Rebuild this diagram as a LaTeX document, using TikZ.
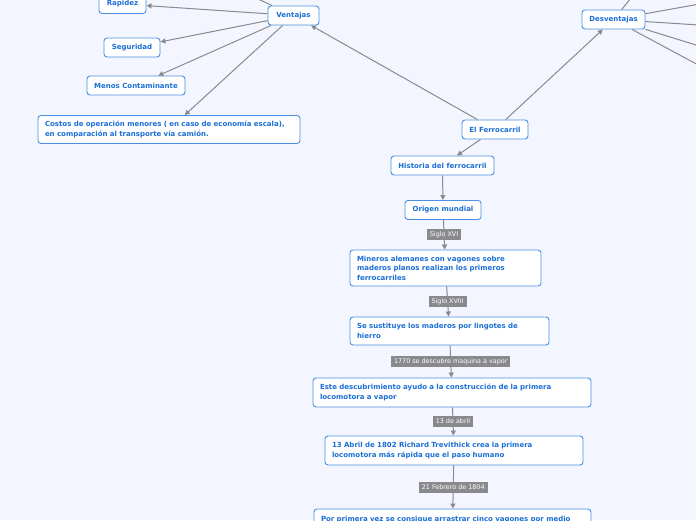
\documentclass[tikz,border=0pt]{standalone}
\usepackage{fontspec}
\newfontfamily\mapfont{DejaVu Sans}
\usetikzlibrary{arrows.meta}
\definecolor{mapbg}{HTML}{F3F6FE}
\definecolor{mapblue}{HTML}{4A90E2}
\definecolor{maptext}{HTML}{1A6FD6}
\definecolor{mapgray}{HTML}{8A8A8E}

\begin{document}
\begin{tikzpicture}[x=1pt,y=-1pt,>={Triangle[length=5pt,width=5pt]},
  every text node part/.style={align=left},
  topic/.style={draw=mapblue,line width=0.9pt,fill=white,rounded corners=3pt,text=maptext,
    font=\mapfont\bfseries\fontsize{7}{9.5}\selectfont,minimum height=19pt,inner xsep=7pt,inner ysep=3pt},
  tag/.style={fill=mapgray,text=white,font=\mapfont\fontsize{6.4}{7}\selectfont,inner xsep=3pt,inner ysep=1.5pt,minimum height=11pt},
  link/.style={draw=mapgray,line width=1pt}]

\useasboundingbox (0,0) rectangle (696,520);
\fill [mapbg] (0,0) rectangle (696,520);
\clip (0,0) rectangle (696,520);

%%%%%%%%%%%%%%%%%%%%%%%%%%%%%%%%%%%%%%

\node[topic,minimum width=66pt] (ferro) at (495,129.5) {El Ferrocarril};
\node[topic,minimum width=51pt] (vent) at (293.5,15.5) {Ventajas};
\node[topic,minimum width=63pt] (desv) at (613.5,19.5) {Desventajas};

%%%%%%%%%%%%%%%%%%%%%%%%%%%%%%%%%%%%%%

\node[topic,minimum width=47pt] (rapidez) at (122.5,4) {Rapidez};
\node[topic,minimum width=56pt] (seguridad) at (132,47.5) {Seguridad};
\node[topic,minimum width=98pt] (menos) at (136,85.5) {Menos Contaminante};
\node[topic,text width=248pt,minimum height=28pt] (costos) at (169,129.5)
  {Costos de operación menores ( en caso de economía escala),\\en comparación al transporte vía camión.};

\coordinate (v0) at (230,-14);
\coordinate (d0) at (640,-13);
\coordinate (d1) at (730,-1.5);
\coordinate (d2) at (730,27);
\coordinate (d3) at (730,55.5);
\coordinate (d4) at (730,82);

%%%%%%%%%%%%%%%%%%%%%%%%%%%%%%%%%%%%%%

\node[topic,minimum width=103pt] (historia) at (442.5,165.5) {Historia del ferrocarril};
\node[topic,minimum width=76pt] (origen) at (443,210) {Origen mundial};
\node[topic,text width=177pt,minimum height=36pt] (mineros) at (445.5,268)
  {Mineros alemanes con vagones sobre\\maderos planos realizan los primeros\\ferrocarriles};
\node[topic,text width=185pt,minimum height=28pt] (lingotes) at (449.5,331)
  {Se sustituye los maderos por lingotes de\\hierro};
\node[topic,text width=264pt,minimum height=29pt] (descub) at (452,392.5)
  {Este descubrimiento ayudo a la construcción de la primera\\locomotora a vapor};
\node[topic,text width=244pt,minimum height=29pt] (trevithick) at (454,450.5)
  {13 Abril de 1802 Richard Trevithick crea la primera\\locomotora más rápida que el paso humano};
\node[topic,text width=263pt,minimum height=29pt] (vagones) at (452.5,523.5)
  {Por primera vez se consigue arrastrar cinco vagones por medio\\\phantom{x}};

%%%%%%%%%%%%%%%%%%%%%%%%%%%%%%%%%%%%%%

\draw[link,->] (ferro) -- (vent);
\draw[link,->] (ferro) -- (desv);
\draw[link,->] (ferro) -- (historia);

\draw[link,->] (vent) -- (rapidez);
\draw[link,->] (vent) -- (seguridad);
\draw[link,->] (vent) -- (menos);
\draw[link,->] (vent) -- (costos);
\draw[link,->] (vent) -- (v0);

\draw[link,->] (desv) -- (d0);
\draw[link,->] (desv) -- (d1);
\draw[link,->] (desv) -- (d2);
\draw[link,->] (desv) -- (d3);
\draw[link,->] (desv) -- (d4);

\draw[link,->] (historia) -- (origen);
\draw[link,->] (origen) -- node[tag] {Siglo XVI} (mineros);
\draw[link,->] (mineros) -- node[tag] {Siglo XVIII} (lingotes);
\draw[link,->] (lingotes) -- node[tag] {1770 se descubre maquina a vapor} (descub);
\draw[link,->] (descub) -- node[tag] {13 de abril} (trevithick);
\draw[link,->] (trevithick) -- node[tag] {21 Febrero de 1804} (vagones);

\end{tikzpicture}
\end{document}
